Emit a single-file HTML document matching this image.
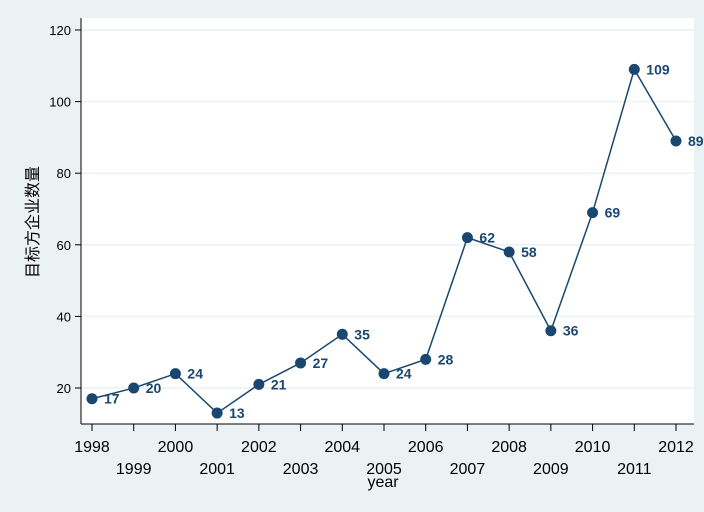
<!DOCTYPE html>
<html><head><meta charset="utf-8"><style>
body{margin:0;background:#eaf2f3;}
svg{display:block;font-family:"Liberation Sans","Noto Sans CJK SC",sans-serif;}
</style></head><body>
<svg width="704" height="512">
<rect x="0" y="0" width="704" height="512" fill="#eaf2f3"/>
<rect x="81" y="18" width="613" height="406" fill="#fff"/>
<g id="grid"></g>
<g id="axes"></g>
<g id="series"></g>
<text x="38" y="222" transform="rotate(-90 38 222)" text-anchor="middle" font-size="16" fill="#000">目标方企业数量</text>
<text x="383" y="487" text-anchor="middle" font-size="16" fill="#000">year</text>
</svg>
<script>
const years=[1998,1999,2000,2001,2002,2003,2004,2005,2006,2007,2008,2009,2010,2011,2012];
const counts=[17,20,24,13,21,27,35,24,28,62,58,36,69,109,89];
const yTicks=[20,40,60,80,100,120];
const NS="http://www.w3.org/2000/svg";
const xs=y=>92+(y-1998)*(676-92)/14;
const ys=v=>388-(v-20)*(388-30)/100;
function mk(t,a,p){const e=document.createElementNS(NS,t);for(const k in a)e.setAttribute(k,a[k]);p.appendChild(e);return e;}
const grid=document.getElementById('grid'),axes=document.getElementById('axes'),ser=document.getElementById('series');
mk('line',{x1:81,y1:18,x2:81,y2:424,stroke:'#000','stroke-width':1},axes);
mk('line',{x1:81,y1:424,x2:694,y2:424,stroke:'#000','stroke-width':1},axes);
yTicks.forEach(v=>{
 const g=mk('line',{x1:81,x2:694,y1:ys(v),y2:ys(v),stroke:'#eaf2f3','stroke-width':1.5},grid);
 
 mk('line',{x1:75,x2:81,y1:ys(v),y2:ys(v),stroke:'#000'},axes);
 const t=mk('text',{x:71,y:ys(v)+5,'text-anchor':'end','font-size':13},axes);t.textContent=v;
 
});
years.forEach((yr,i)=>{
 mk('line',{x1:xs(yr),x2:xs(yr),y1:424,y2:431,stroke:'#000'},axes);
 const t=mk('text',{x:xs(yr),y:i%2?474:452,'text-anchor':'middle','font-size':16},axes);t.textContent=yr;
 
});
const pl=mk('polyline',{points:years.map((y,i)=>xs(y)+','+ys(counts[i])).join(' '),fill:'none',stroke:'#1a476f','stroke-width':1.5},ser);

years.forEach((yr,i)=>{
 const c=mk('circle',{cx:xs(yr),cy:ys(counts[i]),r:5.5,fill:'#1a476f'},ser);
 
 const t=mk('text',{x:xs(yr)+12,y:ys(counts[i])+5,'font-size':14,'font-weight':'bold',fill:'#1a476f'},ser);t.textContent=counts[i];
 
});
</script>
</body></html>
